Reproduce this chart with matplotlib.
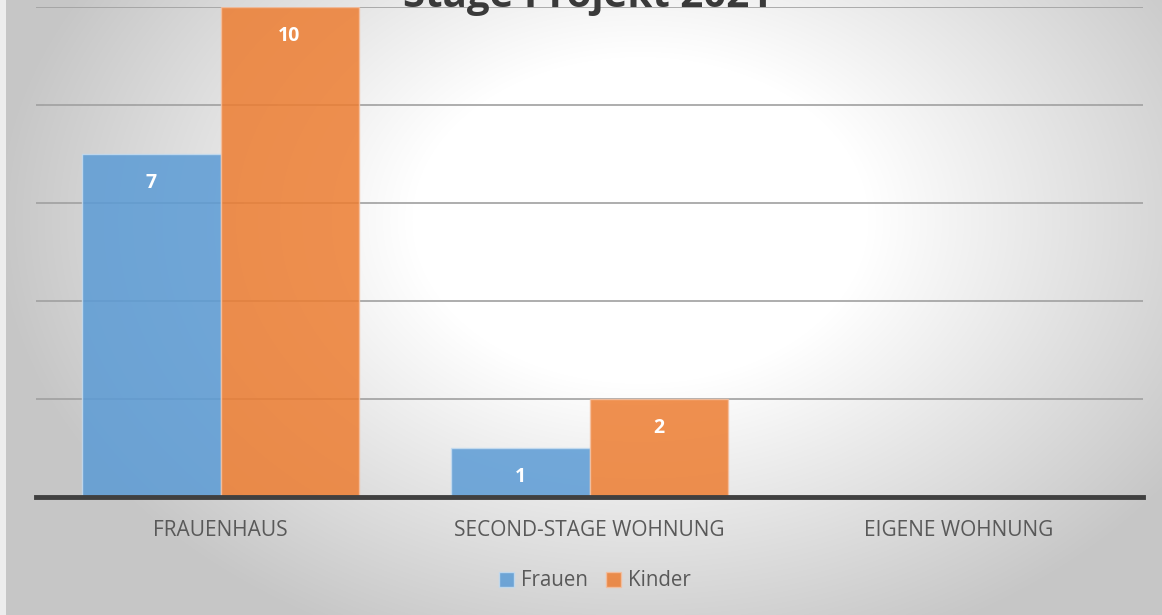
import numpy as np
import matplotlib
matplotlib.use("Agg")
import matplotlib.pyplot as plt
from matplotlib.patches import Patch

plt.rcParams['font.family'] = ['Open Sans', 'DejaVu Sans']

# Daten
kategorien = ['FRAUENHAUS', 'SECOND-STAGE WOHNUNG', 'EIGENE WOHNUNG']
frauen = [7, 1, 0]
kinder = [10, 2, 0]
titel = 'Stage Projekt 2021'

blau = '#5B9BD5'
orange = '#ED7D31'

fig = plt.figure(figsize=(11.62, 6.15), dpi=100)

# Hintergrund: radialer Verlauf (weiss in der Mitte, grau am Rand)
bg = fig.add_axes([0, 0, 1, 1])
yy, xx = np.mgrid[0:615, 0:1162]
d = np.sqrt(((xx - 640) / 600.0) ** 2 + ((yy - 220) / 430.0) ** 2)
g = np.clip(1.0 - 0.24 * np.clip(d - 0.38, 0, None) / 0.75, 0.78, 1.0)
img = np.dstack([g, g, g])
img[:, :6] = 0.93
bg.imshow(img, aspect='auto', extent=[0, 1, 0, 1], origin='upper')
bg.axis('off')

# Diagramm
ax = fig.add_axes([36 / 1162, 1 - 497 / 615, (1143 - 36) / 1162, 490 / 615])
ax.set_facecolor('none')
x = np.arange(len(kategorien))
w = 0.374
b1 = ax.bar(x - w / 2, frauen, w, color=blau, alpha=0.85, edgecolor='#c5dcf0', linewidth=1, zorder=3)
b2 = ax.bar(x + w / 2, kinder, w, color=orange, alpha=0.85, edgecolor='#f5c0a0', linewidth=1, zorder=3)

for bars, vals in ((b1, frauen), (b2, kinder)):
    for r, v in zip(bars, vals):
        if v > 0:
            ax.text(r.get_x() + r.get_width() / 2, v - 0.6, str(v), ha='center', va='center',
                    color='white', fontsize=14, fontweight='bold', zorder=4)

ax.set_xlim(-0.5, 2.5)
ax.set_ylim(0, 10)
ax.set_yticks([2, 4, 6, 8, 10])
ax.yaxis.grid(True, color='#a0a0a0', linewidth=1.2, zorder=1)
ax.tick_params(axis='y', left=False, labelleft=False)
ax.tick_params(axis='x', bottom=False, pad=13, labelsize=15, labelcolor='#595959')
ax.set_xticks(x)
ax.set_xticklabels(kategorien)
for s in ('top', 'right', 'left'):
    ax.spines[s].set_visible(False)
ax.spines['bottom'].set_color('#404040')
ax.spines['bottom'].set_linewidth(3.5)
ax.spines['bottom'].set_zorder(5)

fig.text(588 / 1162, 1 - 7 / 615, titel, ha='center', va='baseline', fontsize=29,
         fontweight='bold', color='#3a3a3a')

handles = [Patch(facecolor=blau, alpha=0.85, edgecolor='#c5dcf0', label='Frauen'),
           Patch(facecolor=orange, alpha=0.85, edgecolor='#f5c0a0', label='Kinder')]
fig.legend(handles=handles, loc='center', bbox_to_anchor=(595 / 1162, 1 - 581 / 615), ncol=2,
           frameon=False, fontsize=14.8, labelcolor='#595959', handlelength=0.7, handleheight=0.7,
           handletextpad=0.35, columnspacing=0.9)

fig.savefig('out.png', dpi=100)
